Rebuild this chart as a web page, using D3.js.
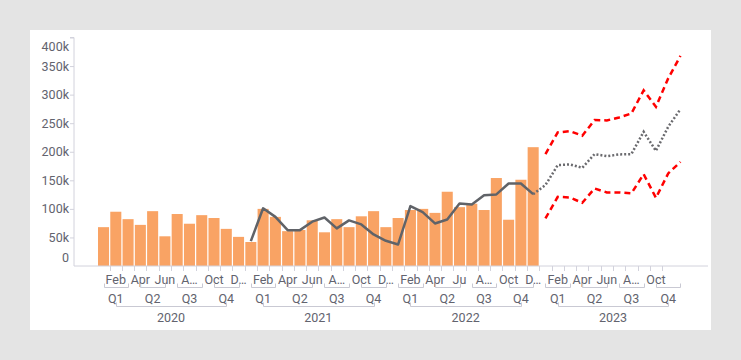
<!DOCTYPE html>
<html>
<head>
<meta charset="utf-8">
<script src="https://cdn.jsdelivr.net/npm/d3@7"></script>
<style>
  html, body { margin: 0; padding: 0; background: #e4e4e4; }
  svg { display: block; }
  text { font-family: Roboto, "Noto Sans", sans-serif; }
</style>
</head>
<body>
<svg id="chart" width="741" height="360"></svg>
<script>
// ---------- DATA ----------
const years = ["2020", "2021", "2022", "2023"];
const quarters = ["Q1", "Q2", "Q3", "Q4"];
const monthNames = ["Jan", "Feb", "Mar", "Apr", "May", "Jun", "Jul", "Aug", "Sep", "Oct", "Nov", "Dec"];
// visible (possibly truncated) month tick labels per year
const monthLabels2020 = ["", "Feb", "", "Apr", "", "Jun", "", "A…", "", "Oct", "", "D…"];
const monthLabels2021 = ["", "Feb", "", "Apr", "", "Jun", "", "A…", "", "Oct", "", "D…"];
const monthLabels2022 = ["", "Feb", "", "Apr", "", "Ju", "", "A…", "", "Oct", "", "D…"];
const monthLabels2023 = ["", "Feb", "", "Apr", "", "Jun", "", "A…", "", "Oct", "", ""];
// actual monthly values Jan 2020 – Dec 2022
const actual = [68, 95, 82, 72, 96, 52, 91, 74, 89, 84, 65, 51,
                42, 100, 86, 61, 63, 80, 59, 82, 68, 87, 96, 68,
                84, 98, 100, 93, 130, 103, 109, 98, 154, 81, 151, 208];
// fitted line Jan 2021 – Dec 2022
const fitted = [43.5, 101, 86, 62.8, 62.8, 77.6, 85, 65.8, 79.8, 72.8, 55.3, 44.1,
                37.7, 104.8, 94.3, 74.5, 81.5, 109.5, 107.7, 124, 125.3, 144.5, 144.5, 125.8];
// forecast Jan 2023 – Dec 2023
const forecast = [141.6, 176.6, 177.8, 171.9, 195.8, 192.3, 195.3, 195.8, 234.9, 201.6, 243.7, 274.6];
const upper    = [195.8, 233.8, 236.1, 228.0, 255.4, 254.8, 260.0, 267.0, 307.4, 278.7, 328.4, 368.0];
const lower    = [83.2, 121.1, 120.0, 110.6, 135.8, 128.8, 128.8, 127.0, 160.8, 119.4, 162.0, 182.4];
const yTicks = [0, 50, 100, 150, 200, 250, 300, 350, 400];
const yTickLabels = ["0", "50k", "100k", "150k", "200k", "250k", "300k", "350k", "400k"];

// ---------- BUILD ----------
const monthLabelsByYear = [monthLabels2020, monthLabels2021, monthLabels2022, monthLabels2023];
const months = [];
years.forEach((y, yi) => monthNames.forEach((m, mi) => months.push({
  key: y + "-" + m, year: y, yi, mi, q: Math.floor(mi / 3), label: monthLabelsByYear[yi][mi]
})));

const svg = d3.select("#chart");
const W = 741, H = 360;
const panel = { x: 30, y: 30, w: 681, h: 300 };
const axisX = 74, axisRight = 708;
const baseY = 266, topY = 37.5;

svg.append("rect").attr("x", panel.x).attr("y", panel.y).attr("width", panel.w).attr("height", panel.h).attr("fill", "#fff");

const x = d3.scaleBand().domain(months.map(d => d.key)).range([98, 686]).paddingInner(0.1).paddingOuter(0);
const step = x.step();
const cx = k => x(k) + x.bandwidth() / 2;
const y = d3.scaleLinear().domain([0, 400]).range([baseY, topY]);

const textColor = "#62636e";
const axisColor = "#d2d2dc";
const bracketColor = "#c9c9d3";

// Y axis
const yAxis = d3.axisLeft(y).tickValues(yTicks).tickSize(4).tickFormat((d, i) => yTickLabels[i]);
const gy = svg.append("g").attr("transform", `translate(${axisX},0)`).call(yAxis);
gy.select(".domain").attr("stroke", axisColor).attr("d", `M-4,${topY}H0V${baseY}`);
gy.selectAll(".tick line").attr("stroke", axisColor);
gy.selectAll(".tick text").attr("fill", textColor).attr("font-size", 12.5)
  .attr("font-family", "Roboto, sans-serif").attr("x", -5)
  .attr("dy", d => d === 0 ? "-0.4em" : d === 400 ? "1.0em" : "0.32em");
gy.selectAll(".tick").filter(d => d === 0).select("line").remove();

// Bars
const actualMonths = months.slice(0, actual.length);
svg.append("g").selectAll("rect").data(actualMonths).join("rect")
  .attr("x", d => x(d.key)).attr("width", x.bandwidth())
  .attr("y", (d, i) => y(actual[i])).attr("height", (d, i) => baseY - y(actual[i]))
  .attr("fill", "#f9a364");

// X axis line and month ticks
svg.append("line").attr("x1", axisX).attr("x2", axisRight).attr("y1", baseY).attr("y2", baseY)
  .attr("stroke", axisColor).attr("stroke-width", 1);
svg.append("g").selectAll("line").data(months.slice(1, 47)).join("line")
  .attr("x1", d => Math.round(x(d.key) - (step - x.bandwidth()) / 2) + 0.5)
  .attr("x2", d => Math.round(x(d.key) - (step - x.bandwidth()) / 2) + 0.5)
  .attr("y1", baseY).attr("y2", baseY + 5).attr("stroke", axisColor);

// Month labels
svg.append("g").selectAll("text").data(months.filter(d => d.label)).join("text")
  .attr("x", d => cx(d.key)).attr("y", 283.5).attr("text-anchor", "middle")
  .attr("font-size", 12.5).attr("fill", textColor).text(d => d.label);

// Quarter brackets & labels
const qGroups = [];
years.forEach((yr, yi) => quarters.forEach((q, qi) => {
  const ms = months.filter(m => m.yi === yi && m.q === qi);
  qGroups.push({ yr, q, first: ms[0].key, mid: ms[1].key, last: ms[2].key });
}));
const bracket = (g, x1, x2, yy) => g.append("path")
  .attr("d", `M${x1},${yy - 4}V${yy}H${x2}V${yy - 4}`)
  .attr("fill", "none").attr("stroke", bracketColor).attr("stroke-width", 1);
const gq = svg.append("g");
qGroups.forEach(g => {
  bracket(gq, Math.round(cx(g.first)) + 0.5, Math.round(cx(g.last)) + 0.5, 287.5);
  gq.append("text").attr("x", cx(g.mid)).attr("y", 302.5).attr("text-anchor", "middle")
    .attr("font-size", 12.5).attr("fill", textColor).text(g.q);
});
// Year brackets & labels
years.forEach((yr, yi) => {
  const qs = qGroups.filter(g => g.yr === yr);
  const x1 = cx(qs[0].mid), x2 = cx(qs[3].mid);
  bracket(gq, Math.round(x1) + 0.5, Math.round(x2) + 0.5, 306.5);
  gq.append("text").attr("x", (x1 + x2) / 2).attr("y", 321.5).attr("text-anchor", "middle")
    .attr("font-size", 12.5).attr("fill", textColor).text(yr);
});

// Lines
const line = d3.line().x(d => cx(d.key)).y(d => y(d.v));
const fittedPts = months.slice(12, 36).map((m, i) => ({ key: m.key, v: fitted[i] }));
const fcMonths = months.slice(36, 48);
const fcPts = [fittedPts[fittedPts.length - 1]].concat(fcMonths.map((m, i) => ({ key: m.key, v: forecast[i] })));
const upPts = fcMonths.map((m, i) => ({ key: m.key, v: upper[i] }));
const loPts = fcMonths.map((m, i) => ({ key: m.key, v: lower[i] }));

svg.append("path").attr("d", line(fittedPts)).attr("fill", "none")
  .attr("stroke", "#606368").attr("stroke-width", 2.5).attr("stroke-linejoin", "round");
svg.append("path").attr("d", line(fcPts)).attr("fill", "none")
  .attr("stroke", "#6a6a6e").attr("stroke-width", 2.5).attr("stroke-dasharray", "2,2");
[upPts, loPts].forEach(pts => svg.append("path").attr("d", line(pts)).attr("fill", "none")
  .attr("stroke", "#ff0000").attr("stroke-width", 2.5).attr("stroke-dasharray", "6,4"));
</script>
</body>
</html>
